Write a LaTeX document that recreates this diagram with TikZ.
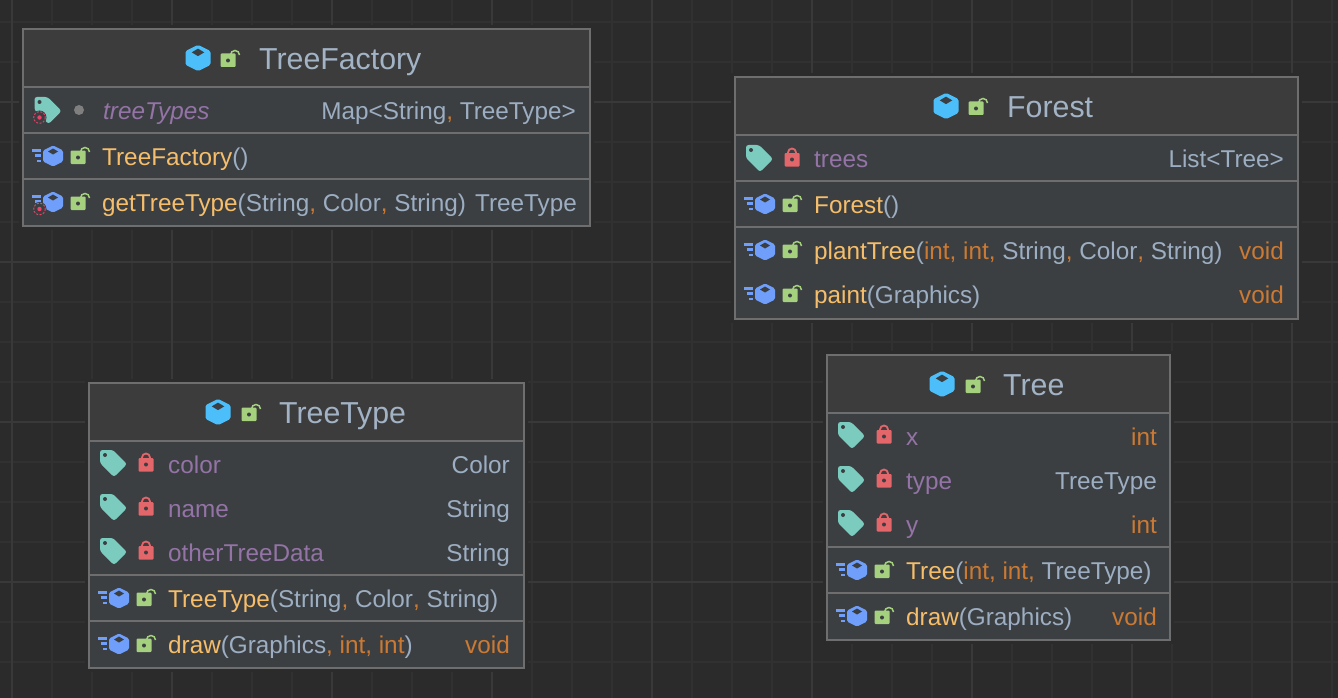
\documentclass[tikz,border=0pt]{standalone}
\usepackage{fontspec}
\setmainfont{Liberation Sans}
\definecolor{canvas}{HTML}{2B2B2B}
\definecolor{gridminor}{HTML}{313131}
\definecolor{gridmajor}{HTML}{393939}
\definecolor{rim}{HTML}{6E6E6E}
\definecolor{headfill}{HTML}{3C3C3C}
\definecolor{bodyfill}{HTML}{3B3F42}
\definecolor{titletext}{HTML}{A3B3C6}
\definecolor{paramtext}{HTML}{9DAEC2}
\definecolor{methodtext}{HTML}{F6BE6B}
\definecolor{fieldtext}{HTML}{9473A6}
\definecolor{keywordtext}{HTML}{CC7A33}
\definecolor{cubeblue}{HTML}{4CBFFA}
\definecolor{methodblue}{HTML}{6F9FFA}
\definecolor{lockgreen}{HTML}{A5D07E}
\definecolor{lockred}{HTML}{E3666B}
\definecolor{tagteal}{HTML}{7BCBBE}
\definecolor{staticred}{HTML}{E8456A}
\definecolor{dotgrey}{HTML}{7F7F7F}
\newcommand{\mth}[1]{\textcolor{methodtext}{#1}}
\newcommand{\kwd}[1]{\textcolor{keywordtext}{#1}}
\newcommand{\fld}[1]{\textcolor{fieldtext}{#1}}
\newcommand{\cma}{\kwd{,}}
\tikzset{
umlbox/.style={
  rectangle,
  anchor=north west,
  draw=rim,
  line width=1.8pt,
  fill=bodyfill,
  inner sep=0pt,
  outer sep=0pt,
  preaction={draw=canvas,line width=8pt}
},
headline/.style={fill=headfill},
rowrule/.style={draw=rim,line width=1.5pt},
titlename/.style={anchor=base west,inner sep=0pt,text=titletext,font=\fontsize{30.3}{34}\selectfont},
rowleft/.style={anchor=base west,inner sep=0pt,text=paramtext,font=\fontsize{24.3}{28}\selectfont},
rowright/.style={anchor=base east,inner sep=0pt,text=paramtext,font=\fontsize{24.3}{28}\selectfont},
cube/.pic={
  \fill[pic actions,rounded corners=1.5pt] (0,-10.5) -- (10,-5.5) -- (10,5.5) -- (0,10.5) -- (-10,5.5) -- (-10,-5.5) -- cycle;
  \fill[bodyfill] (0,-7.5) -- (5,-4.5) -- (0,-1.5) -- (-5,-4.5) -- cycle;
},
bars/.pic={
  \fill[methodblue] (-21,-7) rectangle (-12,-4.5);
  \fill[methodblue] (-18,-2) rectangle (-12,0.5);
  \fill[methodblue] (-16,3.5) rectangle (-12,6);
},
openlock/.pic={
  \draw[lockgreen,line width=1.5pt] (2.5,-5) arc[start angle=180,end angle=360,radius=4.5];
  \fill[lockgreen,rounded corners=1pt] (-7.5,-6.5) rectangle (7.5,7);
  \fill[bodyfill] (0,0.5) circle (2);
},
shutlock/.pic={
  \draw[lockred,line width=1.8pt] (-4,-4) -- (-4,-5.5) arc[start angle=180,end angle=360,radius=4] -- (4,-4);
  \fill[lockred,rounded corners=1pt] (-7.5,-5) rectangle (7.5,8.5);
  \fill[bodyfill] (0,1.5) circle (2);
},
tag/.pic={
  \fill[tagteal,rounded corners=2.5pt] (-13,-13) -- (0,-13) -- (14,1) -- (1,14) -- (-13,0) -- cycle;
  \fill[bodyfill] (-8,-8) circle (2);
},
staticmark/.pic={
  \fill[bodyfill] (0,0) circle (7);
  \draw[staticred,line width=0.9pt,dash pattern=on 2pt off 1.5pt] (0,0) circle (5.8);
  \fill[staticred] (0,0) circle (2.2);
}
}
\begin{document}
\begin{tikzpicture}[x=1pt,y=-1pt]
\useasboundingbox (0,0) rectangle (1338,698);
\fill[canvas] (0,0) rectangle (1338,698);
% the grid
\foreach \x in {12,52,...,1332}
  \draw[gridminor,line width=1.5pt] (\x,0) -- (\x,698);
\foreach \y in {22,62,...,682}
  \draw[gridminor,line width=1.5pt] (0,\y) -- (1338,\y);
\foreach \x in {12,172,...,1332}
  \draw[gridmajor,line width=1.5pt] (\x,0) -- (\x,698);
\foreach \y in {102,262,422,582}
  \draw[gridmajor,line width=1.5pt] (0,\y) -- (1338,\y);
% the boxes
\node[umlbox,minimum width=567pt,minimum height=197pt] (factory) at (23,29) {};
\node[umlbox,minimum width=563pt,minimum height=242pt] (forest) at (735,77) {};
\node[umlbox,minimum width=435pt,minimum height=285pt] (treetype) at (89,383) {};
\node[umlbox,minimum width=343pt,minimum height=285pt] (tree) at (827,355) {};
\fill[headline] (factory.north west) rectangle (factory.east |- 0,87);
\fill[headline] (forest.north west) rectangle (forest.east |- 0,135);
\fill[headline] (treetype.north west) rectangle (treetype.east |- 0,441);
\fill[headline] (tree.north west) rectangle (tree.east |- 0,413);
\draw[draw=rim,line width=1.8pt] (factory.north west) rectangle (factory.south east);
\draw[draw=rim,line width=1.8pt] (forest.north west) rectangle (forest.south east);
\draw[draw=rim,line width=1.8pt] (treetype.north west) rectangle (treetype.south east);
\draw[draw=rim,line width=1.8pt] (tree.north west) rectangle (tree.south east);
% the rules
\foreach \y in {87,133,179}
  \draw[rowrule] (factory.west |- 0,\y) -- (factory.east |- 0,\y);
\foreach \y in {135,181,227}
  \draw[rowrule] (forest.west |- 0,\y) -- (forest.east |- 0,\y);
\foreach \y in {441,575,621}
  \draw[rowrule] (treetype.west |- 0,\y) -- (treetype.east |- 0,\y);
\foreach \y in {413,547,593}
  \draw[rowrule] (tree.west |- 0,\y) -- (tree.east |- 0,\y);
% the titles
\node[titlename] (factory-name) at (259,70) {TreeFactory};
\node[titlename] (forest-name) at (1007,118) {Forest};
\node[titlename] (treetype-name) at (279,423) {TreeType};
\node[titlename] (tree-name) at (1003,395) {Tree};
\foreach \x/\y in {198/58,946/106,218/412,942/384}
  \path (\x,\y) pic[scale=1.25,fill=cubeblue] {cube};
\foreach \x/\y in {228/60,976/108,249/414,973/386}
  \path (\x,\y) pic {openlock};
% the members of TreeFactory
\path (47.5,110) pic {tag};
\path (39.5,117.5) pic {staticmark};
\fill[dotgrey] (79,110) circle (5);
\node[rowleft] (factory-1) at (103,120) {\fld{\itshape treeTypes}};
\node[rowright] (factory-1t) at (576,120) {Map<String\cma{} TreeType>};
\node[rowleft] (factory-2) at (102,165) {\mth{TreeFactory}()};
\node[rowleft] (factory-3) at (102,211) {\mth{getTreeType}(String\cma{} Color\cma{} String)};
\node[rowright] (factory-3t) at (577,211) {TreeType};
% the members of Forest
\path (759,158) pic {tag};
\path (792,158) pic {shutlock};
\node[rowleft] (forest-1) at (814,167) {\fld{trees}};
\node[rowright] (forest-1t) at (1284,167) {List<Tree>};
\node[rowleft] (forest-2) at (814,213) {\mth{Forest}()};
\node[rowleft] (forest-3) at (814,259) {\mth{plantTree}(\kwd{int, int,} String\cma{} Color\cma{} String)};
\node[rowright] (forest-3t) at (1284,259) {\kwd{void}};
\node[rowleft] (forest-4) at (814,303) {\mth{paint}(Graphics)};
\node[rowright] (forest-4t) at (1284,303) {\kwd{void}};
% the members of TreeType
\foreach \y in {463,507,551} {
  \path (113,\y) pic {tag};
  \path (146,\y) pic {shutlock};
}
\node[rowleft] (treetype-1) at (168,473) {\fld{color}};
\node[rowright] (treetype-1t) at (510,473) {Color};
\node[rowleft] (treetype-2) at (168,517) {\fld{name}};
\node[rowright] (treetype-2t) at (510,517) {String};
\node[rowleft] (treetype-3) at (168,561) {\fld{otherTreeData}};
\node[rowright] (treetype-3t) at (510,561) {String};
\node[rowleft] (treetype-4) at (168,607) {\mth{TreeType}(String\cma{} Color\cma{} String)};
\node[rowleft] (treetype-5) at (168,653) {\mth{draw}(Graphics\cma{} \kwd{int, int})};
\node[rowright] (treetype-5t) at (510,653) {\kwd{void}};
% the members of Tree
\foreach \y in {435,479,523} {
  \path (851,\y) pic {tag};
  \path (884,\y) pic {shutlock};
}
\node[rowleft] (tree-1) at (906,445) {\fld{x}};
\node[rowright] (tree-1t) at (1157,445) {\kwd{int}};
\node[rowleft] (tree-2) at (906,489) {\fld{type}};
\node[rowright] (tree-2t) at (1157,489) {TreeType};
\node[rowleft] (tree-3) at (906,533) {\fld{y}};
\node[rowright] (tree-3t) at (1157,533) {\kwd{int}};
\node[rowleft] (tree-4) at (906,579) {\mth{Tree}(\kwd{int, int,} TreeType)};
\node[rowleft] (tree-5) at (906,625) {\mth{draw}(Graphics)};
\node[rowright] (tree-5t) at (1157,625) {\kwd{void}};
% the method icons
\foreach \x/\y in {53/156,53/202,765/204,765/250,765/294,119/598,119/644,857/570,857/616} {
  \path (\x,\y) pic {bars};
  \path (\x,\y) pic[fill=methodblue] {cube};
  \path (\x+25,\y+1) pic {openlock};
}
\path (39.5,209) pic {staticmark};
\end{tikzpicture}
\end{document}
